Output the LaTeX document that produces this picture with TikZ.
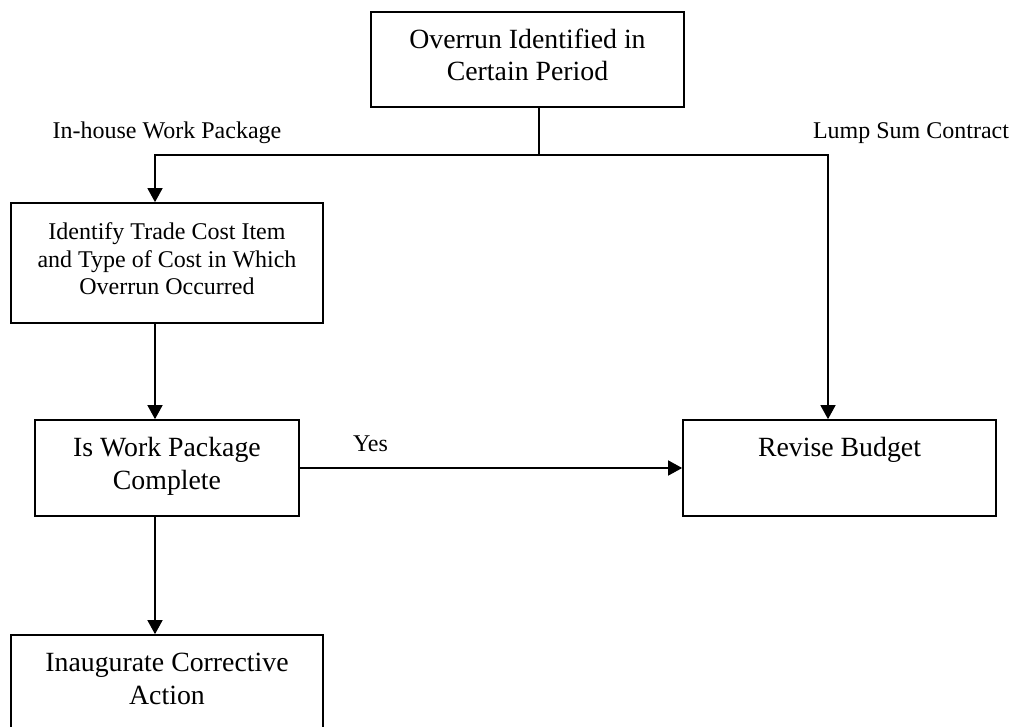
\documentclass[tikz,border=0pt]{standalone}
\usepackage{fontspec}
\setmainfont{Liberation Serif}
\usetikzlibrary{arrows.meta}

\begin{document}
\begin{tikzpicture}[x=1pt,y=-1pt,
  box/.style={draw, line width=1.7pt, rectangle, inner sep=0pt, align=center},
  bigtext/.style={font=\fontsize{27.8}{32.5}\selectfont},
  smalltext/.style={font=\fontsize{24}{27.5}\selectfont},
  conn/.style={line width=1.5pt},
  arr/.style={conn, -{Triangle[length=14pt,width=15pt]}},
  lbl/.style={smalltext, anchor=base, inner sep=0pt}]
  \useasboundingbox (0,0) rectangle (1014,727);
  \clip (0,0) rectangle (1014,727);

  % process boxes
  \node (top) [box, bigtext, minimum width=313pt, minimum height=95pt]
    at (527.5,59.5) {Overrun Identified in\\Certain Period\strut};
  \node (ident) [box, smalltext, minimum width=312pt, minimum height=120pt]
    at (167,263) {Identify Trade Cost Item\\and Type of Cost in Which\\Overrun Occurred\strut};
  \node (isdone) [box, bigtext, minimum width=264pt, minimum height=96pt]
    at (167,468) {Is Work Package\\Complete\strut};
  \node (revise) [box, bigtext, minimum width=313pt, minimum height=96pt]
    at (839.5,468) {Revise Budget\\\strut};
  \node (act) [box, bigtext, minimum width=312pt, minimum height=130pt]
    at (167,700) {Inaugurate Corrective\\Action\\\strut};

  % branch points of the split connector
  \coordinate (jT) at (539,155);
  \coordinate (jL) at (155,155);
  \coordinate (jR) at (828,155);

  % connectors
  \draw[conn] (top.south -| jT) -- (jT);
  \draw[arr] (jT) -- (jL) -- (ident.north -| jL);
  \draw[arr] (jT) -- (jR) -- (revise.north -| jR);
  \draw[arr] (ident.south -| jL) -- (isdone.north -| jL);
  \draw[arr] (isdone.south -| jL) -- (act.north -| jL);
  \draw[arr] (isdone.east) -- (revise.west);

  % branch labels
  \node (inhouse) [lbl] at (167,138.5) {In-house Work Package};
  \node (lumpsum) [lbl] at (911,138.5) {Lump Sum Contract};
  \node (yes) [lbl] at (370.5,451) {Yes};
\end{tikzpicture}
\end{document}
